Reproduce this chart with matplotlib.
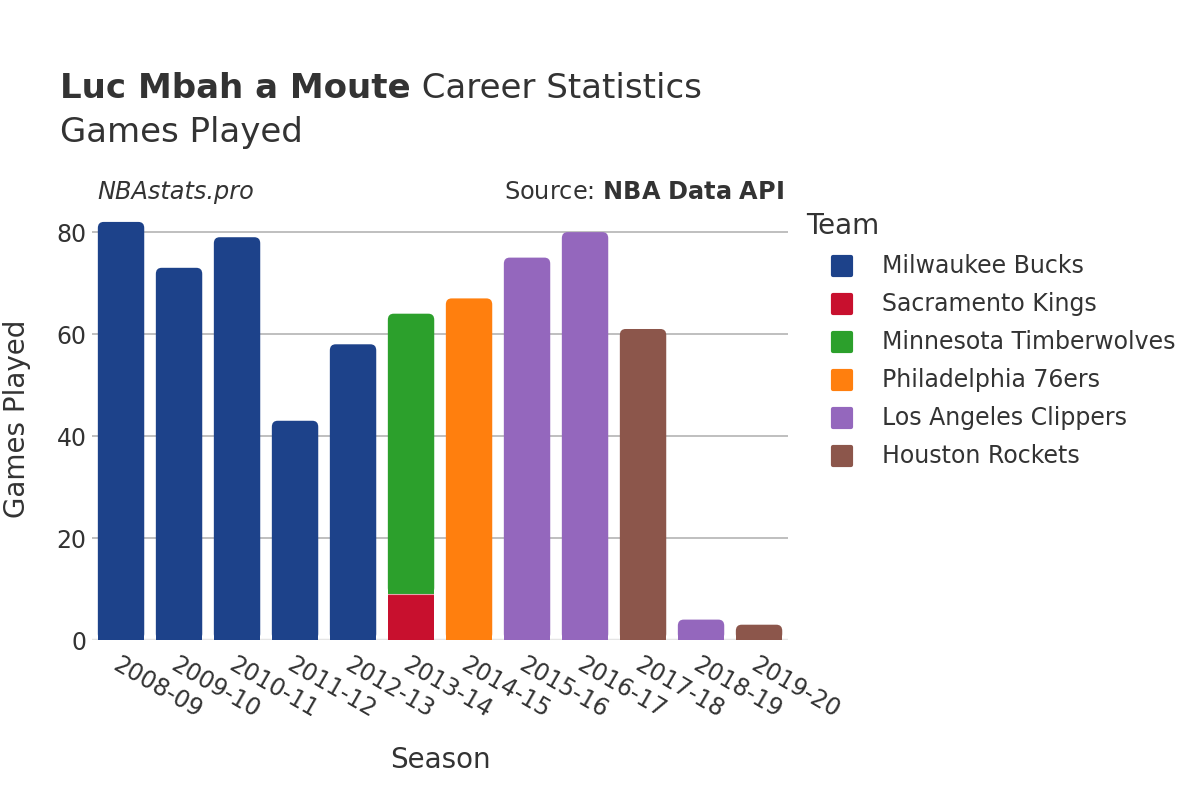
import numpy as np
import matplotlib
matplotlib.use("Agg")
import matplotlib.pyplot as plt
from matplotlib.patches import FancyBboxPatch, Rectangle
from matplotlib.lines import Line2D
from matplotlib.markers import MarkerStyle

seasons = ["2008-09", "2009-10", "2010-11", "2011-12", "2012-13", "2013-14",
           "2014-15", "2015-16", "2016-17", "2017-18", "2018-19", "2019-20"]
teams = ["Milwaukee Bucks", "Sacramento Kings", "Minnesota Timberwolves",
         "Philadelphia 76ers", "Los Angeles Clippers", "Houston Rockets"]
team_colors = ["#1d428a", "#c8102e", "#2ca02c", "#ff7f0e", "#9467bd", "#8c564b"]

# games per season per team (stacked in team order)
milwaukee = [82, 73, 79, 43, 58, 0, 0, 0, 0, 0, 0, 0]
sacramento = [0, 0, 0, 0, 0, 9, 0, 0, 0, 0, 0, 0]
minnesota = [0, 0, 0, 0, 0, 55, 0, 0, 0, 0, 0, 0]
philadelphia = [0, 0, 0, 0, 0, 0, 67, 0, 0, 0, 0, 0]
clippers = [0, 0, 0, 0, 0, 0, 0, 75, 80, 0, 4, 0]
houston = [0, 0, 0, 0, 0, 0, 0, 0, 0, 61, 0, 3]
games = [milwaukee, sacramento, minnesota, philadelphia, clippers, houston]

TXT = "#333333"
plt.rcParams["font.family"] = ["DejaVu Sans"]

fig = plt.figure(figsize=(12, 8), dpi=100)
ax = fig.add_axes([0.0767, 0.2, 0.58, 0.55])
ax.set_xlim(-0.5, len(seasons) - 0.5)
ax.set_ylim(0, 86.3)

width = 0.8
rx = 0.1    # corner radius in x units
ry = 1.2    # corner radius in y units

totals = np.sum(np.array(games), axis=0)
bottoms = np.zeros(len(seasons))
for vals, col in zip(games, team_colors):
    for i, v in enumerate(vals):
        if v <= 0:
            continue
        b = bottoms[i]
        x0 = i - width / 2
        if (b + v) >= totals[i]:
            ax.add_patch(FancyBboxPatch((x0, b), width, v,
                                        boxstyle=f"round,pad=0,rounding_size={rx}",
                                        mutation_aspect=ry / rx, fc=col, ec="none", zorder=3))
            ax.add_patch(Rectangle((x0, b), width, v / 2 if v < 2 * ry else v - ry,
                                   fc=col, ec="none", zorder=3))
        else:
            ax.add_patch(Rectangle((x0, b), width, v, fc=col, ec="none", zorder=3))
            ax.plot([x0, x0 + width], [b + v, b + v], color="white", lw=0.8, alpha=0.6, zorder=4)
        bottoms[i] += v

ax.set_yticks([0, 20, 40, 60, 80])
ax.grid(axis="y", color="#b4b4b4", lw=1.2, zorder=0)
ax.set_axisbelow(True)
for s in ax.spines.values():
    s.set_visible(False)
ax.axhline(0, color="#e5e5e5", lw=2.5, zorder=2)
ax.tick_params(axis="both", length=0, labelsize=17, colors=TXT)
ax.tick_params(axis="y", pad=4)
ax.tick_params(axis="x", pad=9)
ax.set_xticks(range(len(seasons)))
ax.set_xticklabels(seasons, rotation=-30, ha="left", rotation_mode="anchor")

fig.text(0.014, 0.476, "Games Played", fontsize=20, color=TXT, rotation=90, va="center", ha="center")
fig.text(0.367, 0.05, "Season", fontsize=20, color=TXT, va="center", ha="center")

t1 = fig.text(0.05, 0.889, "Luc Mbah a Moute", fontsize=24.5, fontweight="bold", color=TXT, va="center")
fig.canvas.draw()
bb = t1.get_window_extent(fig.canvas.get_renderer())
fig.text(bb.x1 / 1200, 0.889, " Career Statistics", fontsize=24.5, color=TXT, va="center")
fig.text(0.05, 0.834, "Games Played", fontsize=24.5, color=TXT, va="center")
fig.text(0.081, 0.76, "NBAstats.pro", fontsize=17.3, style="italic", color=TXT, va="center")
fig.text(0.653, 0.76, "Source: $\\bf{NBA\\ Data\\ API}$", fontsize=17.3, color=TXT, va="center", ha="right")

# legend
fig.text(0.672, 0.717, "Team", fontsize=20, color=TXT, va="center")
mk = MarkerStyle("s", joinstyle="round")
for k, (name, c) in enumerate(zip(teams, team_colors)):
    yk = 1 - (266 + 38 * k) / 800
    fig.add_artist(Line2D([842 / 1200], [yk], ls="none", marker=mk, ms=13, mfc=c, mec=c, mew=3,
                          transform=fig.transFigure))
    fig.text(882 / 1200, yk, name, fontsize=17, color=TXT, va="center")

fig.savefig("out.png", dpi=100)
